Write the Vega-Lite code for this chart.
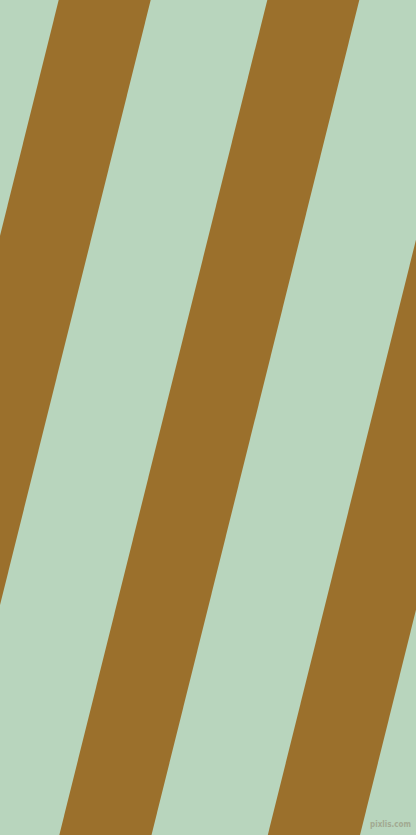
{
  "$schema": "https://vega.github.io/schema/vega-lite/v6.json",
  "description": "Diagonal stripes, brown on pale green.",
  "width": 416,
  "height": 835,
  "autosize": {"type": "fit", "contains": "padding"},
  "padding": 0,
  "background": "#b8d5bd",
  "config": {"view": {"stroke": null}},
  "datasets": {
    "stripes": [
      {"stripe": "a", "y": 0, "left": 58.7, "right": 150.7},
      {"stripe": "a", "y": 835, "left": -149.3, "right": -57.3},
      {"stripe": "b", "y": 0, "left": 267.3, "right": 359.3},
      {"stripe": "b", "y": 835, "left": 59.3, "right": 151.5},
      {"stripe": "c", "y": 0, "left": 475.7, "right": 567.7},
      {"stripe": "c", "y": 835, "left": 267.8, "right": 360}
    ],
    "mark": [
      {"label": "pixlis.com", "x": 411, "y": 825}
    ]
  },
  "layer": [
    {
      "data": {"name": "stripes"},
      "mark": {"type": "area", "orient": "horizontal", "color": "#9b702c", "clip": true, "interpolate": "linear"},
      "encoding": {
        "y": {"field": "y", "type": "quantitative", "scale": {"domain": [0, 835], "reverse": true, "nice": false, "zero": false}, "axis": null},
        "x": {"field": "left", "type": "quantitative", "scale": {"domain": [0, 416], "nice": false, "zero": false}, "axis": null},
        "x2": {"field": "right"},
        "detail": {"field": "stripe", "type": "nominal"}
      }
    },
    {
      "data": {"name": "mark"},
      "mark": {"type": "text", "align": "right", "baseline": "middle", "font": "DejaVu Sans Condensed", "fontSize": 8, "fontWeight": "bold", "color": "#a2aa92"},
      "encoding": {
        "x": {"field": "x", "type": "quantitative"},
        "y": {"field": "y", "type": "quantitative"},
        "text": {"field": "label"}
      }
    }
  ]
}
